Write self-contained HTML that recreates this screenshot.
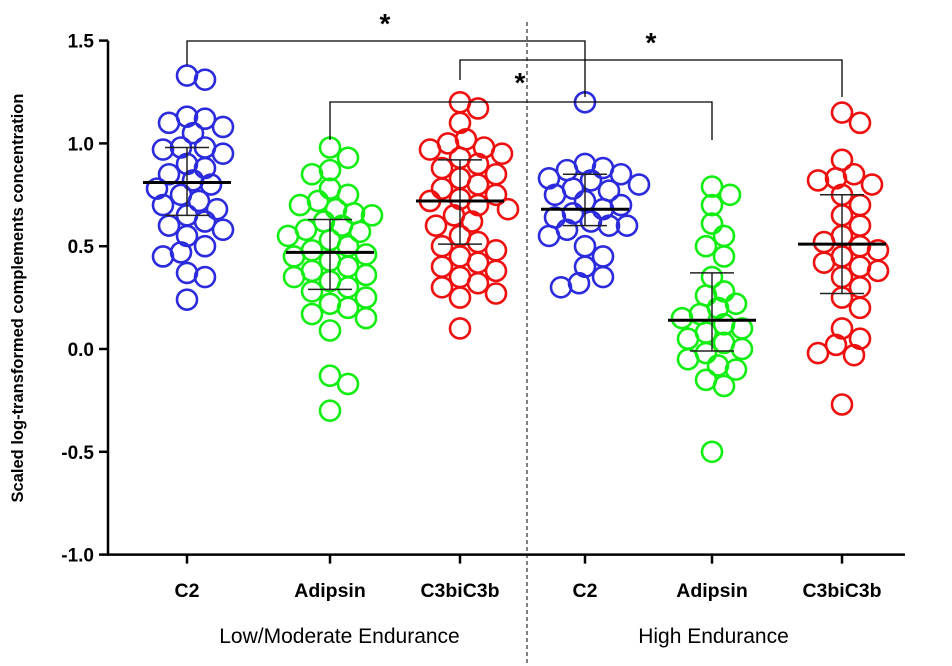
<!DOCTYPE html>
<html><head><meta charset="utf-8"><style>
body{margin:0;background:#fff}
svg{display:block;font-family:"Liberation Sans",Arial,sans-serif}
</style></head><body>
<svg id="chart" width="952" height="666" viewBox="0 0 952 666"></svg>
<script>
const categories=["C2","Adipsin","C3biC3b","C2","Adipsin","C3biC3b"];
const groupLabels=["Low/Moderate Endurance","High Endurance"];
const colors=["#2b2bdd","#11ee11","#ee0f0f","#2b2bdd","#11ee11","#ee0f0f"];
const yTicks=[-1.0,-0.5,0.0,0.5,1.0,1.5];
const yTickLabels=["-1.0","-0.5","0.0","0.5","1.0","1.5"];
const means=[0.81,0.47,0.72,0.68,0.14,0.51];
const errLow=[0.65,0.29,0.51,0.60,-0.01,0.27];
const errHigh=[0.98,0.63,0.92,0.85,0.37,0.75];
const s0=[1.33,1.31,1.13,1.12,1.10,1.08,1.05,0.98,0.98,0.97,0.95,0.90,0.88,0.85,0.82,0.80,0.78,0.75,0.72,0.70,0.68,0.65,0.62,0.60,0.58,0.55,0.50,0.47,0.45,0.37,0.35,0.24];
const s1=[0.98,0.93,0.87,0.85,0.78,0.75,0.72,0.70,0.68,0.66,0.65,0.62,0.60,0.58,0.57,0.55,0.53,0.50,0.48,0.46,0.45,0.43,0.40,0.38,0.36,0.35,0.33,0.30,0.28,0.25,0.22,0.20,0.17,0.15,0.09,-0.13,-0.17,-0.30];
const s2=[1.20,1.17,1.10,1.02,1.00,0.98,0.97,0.95,0.93,0.90,0.88,0.85,0.83,0.80,0.78,0.75,0.73,0.72,0.70,0.68,0.65,0.62,0.60,0.55,0.52,0.50,0.48,0.45,0.42,0.40,0.38,0.35,0.32,0.30,0.27,0.25,0.10];
const s3=[1.20,0.90,0.88,0.87,0.85,0.83,0.82,0.80,0.78,0.77,0.75,0.72,0.70,0.68,0.66,0.64,0.62,0.60,0.60,0.58,0.55,0.50,0.45,0.40,0.35,0.32,0.30];
const s4=[0.79,0.75,0.70,0.61,0.55,0.50,0.45,0.35,0.28,0.26,0.22,0.20,0.17,0.15,0.12,0.10,0.08,0.05,0.03,0.00,-0.02,-0.05,-0.08,-0.10,-0.15,-0.18,-0.50];
const s5=[1.15,1.10,0.92,0.85,0.83,0.82,0.80,0.75,0.70,0.65,0.60,0.55,0.52,0.50,0.48,0.45,0.42,0.40,0.38,0.35,0.30,0.25,0.20,0.10,0.05,0.02,-0.02,-0.03,-0.27];
const series=[s0,s1,s2,s3,s4,s5];

const NS="http://www.w3.org/2000/svg";
const svg=document.getElementById("chart");
const xPos=[187,330,460,585,712,842];
const yScale=v=>349-v*205.6;
const xScale=i=>xPos[i];
function mk(tag,attrs,parent){const e=document.createElementNS(NS,tag);for(const k in attrs)e.setAttribute(k,attrs[k]);(parent||svg).appendChild(e);return e;}

let ax=mk("line",{x1:108,y1:yScale(1.5),x2:108,y2:yScale(-1),stroke:"#000","stroke-width":2.5});


let xa=mk("line",{x1:107,y1:yScale(-1),x2:905,y2:yScale(-1),stroke:"#000","stroke-width":2.5});


yTicks.forEach((t,i)=>{
  let tk=mk("line",{x1:99,y1:yScale(t),x2:108,y2:yScale(t),stroke:"#000","stroke-width":2.5});
  
  
  let tl=mk("text",{x:94,y:yScale(t)+7,"text-anchor":"end","font-size":19,"font-weight":"bold"});
  tl.textContent=yTickLabels[i];
  
  
});
categories.forEach((c,i)=>{
  let tk=mk("line",{x1:xScale(i),y1:yScale(-1),x2:xScale(i),y2:yScale(-1)+9,stroke:"#000","stroke-width":2.5});
  
  
  let tl=mk("text",{x:xScale(i),y:597,"text-anchor":"middle","font-size":19.5,"font-weight":"bold"});
  tl.textContent=c;
  
  
});
[[(xPos[0]+xPos[2])/2+16,groupLabels[0]],[(xPos[3]+xPos[5])/2,groupLabels[1]]].forEach(g=>{
  let t=mk("text",{x:g[0],y:643,"text-anchor":"middle","font-size":21});
  t.textContent=g[1];
  
  
});
let yt=mk("text",{x:0,y:0,transform:"translate(23,298) rotate(-90)","text-anchor":"middle","font-size":16.5,"font-weight":"bold"});
yt.textContent="Scaled log-transformed complements concentration";


let dv=mk("line",{x1:527,y1:22,x2:527,y2:666,stroke:"#000","stroke-width":1,"stroke-dasharray":"4,3"});



series.forEach((vals,gi)=>{
  const placed=[];
  const sorted=vals.slice().sort((a,b)=>b-a);
  sorted.forEach(v=>{
    const y=yScale(v);
    let off=0;
    const cands=[0];
    for(let k=1;k<16;k++){cands.push(k*6,-k*6);}
    for(const c of cands){
      if(placed.every(p=>Math.hypot(p[0]-c,p[1]-y)>=16.5)){off=c;break;}
    }
    placed.push([off,y]);
    let ci=mk("circle",{cx:xScale(gi)+off,cy:y,r:10,fill:"none",stroke:colors[gi],"stroke-width":2.6});
    
    
  });
});
means.forEach((m,i)=>{
  const x=xScale(i);
  let e=mk("line",{x1:x,y1:yScale(errLow[i]),x2:x,y2:yScale(errHigh[i]),stroke:"#222","stroke-width":1.5});
  
  
  [errLow[i],errHigh[i]].forEach(v=>{
    let c=mk("line",{x1:x-22,y1:yScale(v),x2:x+22,y2:yScale(v),stroke:"#222","stroke-width":1.5});
    
    
  });
  let ml=mk("line",{x1:x-44,y1:yScale(m),x2:x+44,y2:yScale(m),stroke:"#000","stroke-width":3});
  
  
});
[[0,3,41,65,97,385,28],[2,5,60,80,97,651,47],[1,4,102,140,140,520,87]].forEach(b=>{
  let p=mk("path",{d:`M${xScale(b[0])},${b[3]}V${b[2]}H${xScale(b[1])}V${b[4]}`,fill:"none",stroke:"#000","stroke-width":1.3});
  
  
  let s=mk("text",{x:b[5],y:b[6]+5,"text-anchor":"middle","font-size":28,"font-weight":"bold"});
  s.textContent="*";
  
  
});
</script>
</body></html>
